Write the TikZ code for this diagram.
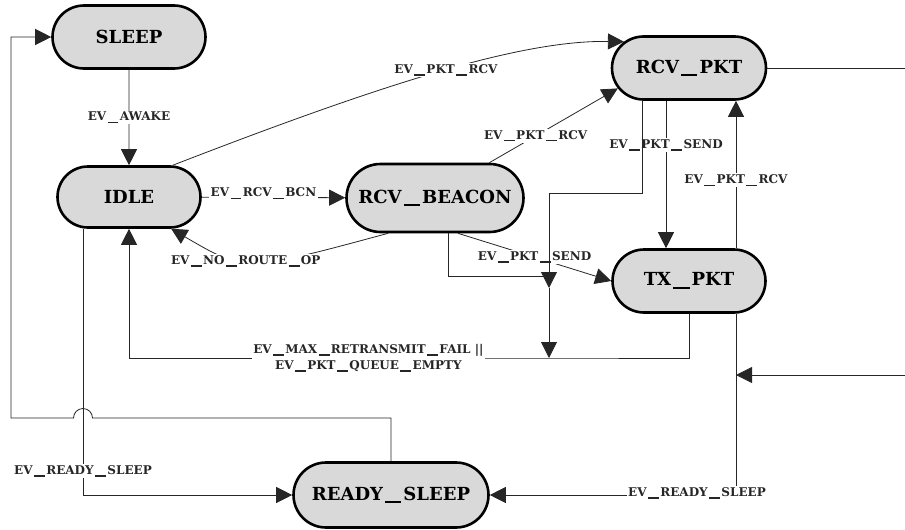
\documentclass[tikz,border=0pt]{standalone}
\usepackage{fontspec}
\setmainfont{DejaVu Serif}
\usepackage{tikz}
\usetikzlibrary{arrows.meta,shapes.misc}

% wide underscore, spaced as in the event names
\newcommand{\usc}{\kern0.12em\rule[-0.18em]{0.9em}{0.11em}\kern0.12em}

\begin{document}
\begin{tikzpicture}[
  x=1pt, y=-1pt,
  state/.style={rounded rectangle, draw, line width=2.6pt, fill=black!15, minimum height=63pt, inner sep=0pt, font=\fontsize{18}{20}\selectfont\bfseries},
  link/.style={line width=0.8pt, black!85},
  trans/.style={link, -{Triangle[length=16pt, width=16pt]}},
  lab/.style={fill=white, inner sep=1.5pt, font=\fontsize{12}{14}\selectfont\bfseries}
]
\useasboundingbox (0,0) rectangle (905,530);

% States
\node[state, minimum width=153pt] (sleep) at (129,37) {SLEEP};
\node[state, minimum width=143pt, minimum height=61pt] (idle) at (129,197) {IDLE};
\node[state, minimum width=177pt, minimum height=68pt] (beacon) at (435,198) {RCV\usc BEACON};
\node[state, minimum width=154pt] (rcvpkt) at (689,68) {RCV\usc PKT};
\node[state, minimum width=153pt] (txpkt) at (689,281) {TX\usc PKT};
\node[state, minimum width=195pt, minimum height=65pt] (rsleep) at (391,495) {READY\usc SLEEP};

% Junctions and free ends
\coordinate (j1) at (549,288);
\coordinate (j2) at (549,358);
\coordinate (hop) at (83,418);
\coordinate (corner) at (11,418);
\coordinate (extin) at (905,375);
\coordinate (extout) at (905,68);
\coordinate (txout) at ([xshift=47pt]txpkt.south);

% Transitions with labels
\draw[trans] (sleep) -- node[lab] {EV\usc AWAKE} (idle);
\draw[trans] (idle) -- node[lab, pos=0.43, yshift=4pt] {EV\usc RCV\usc BCN} (beacon);
\draw[trans] (beacon.217) .. controls (245,272) .. node[lab, pos=0.55] {EV\usc NO\usc ROUTE\usc OP} (idle.323);
\draw[trans] (idle.36) .. controls (380,85) and (520,40) .. node[lab, pos=0.52] {EV\usc PKT\usc RCV} (rcvpkt.158);
\draw[trans] (beacon.33) -- node[lab, pos=0.36] {EV\usc PKT\usc RCV} (rcvpkt.196);
\draw[trans] (beacon.303) -- node[lab, pos=0.5] {EV\usc PKT\usc SEND} (txpkt.west);
\draw[trans] ([xshift=-23pt]rcvpkt.south) -- node[lab, pos=0.3] {EV\usc PKT\usc SEND} ([xshift=-23pt]txpkt.north);
\draw[trans] ([xshift=47pt]txpkt.north) -- node[lab, pos=0.46] {EV\usc PKT\usc RCV} ([xshift=47pt]rcvpkt.south);
\draw[trans] (txpkt.south) |- (j2) -- node[lab, pos=0.43, align=center] {EV\usc MAX\usc RETRANSMIT\usc FAIL ||\\[2pt] EV\usc PKT\usc QUEUE\usc EMPTY} (idle.south |- j2) -- (idle.south);
\draw[trans] ([xshift=-46pt]idle.south) |- node[lab, pos=0.455] {EV\usc READY\usc SLEEP} (rsleep.west);
\draw[trans] (txout) |- node[lab, pos=0.5, xshift=-39pt, yshift=2pt] {EV\usc READY\usc SLEEP} (rsleep.east);

% Paths into the junction
\draw[trans] ([xshift=-47pt]rcvpkt.south) -- ++(0,93) -| (j1);
\draw[link] ([xshift=13pt]beacon.south) |- ([yshift=12pt]j1);
\draw[trans] (j1) -- (j2);

% Back to SLEEP, hopping over the line from IDLE
\draw[trans] (rsleep.north) |- ([xshift=9.5pt]hop) arc[start angle=0, end angle=-180, radius=9.5] -- (corner) |- (sleep.west);

% Outside connections
\draw[trans] (extin) -- (extin -| txout);
\draw[link] (rcvpkt.east) -- (extout);

\end{tikzpicture}
\end{document}
